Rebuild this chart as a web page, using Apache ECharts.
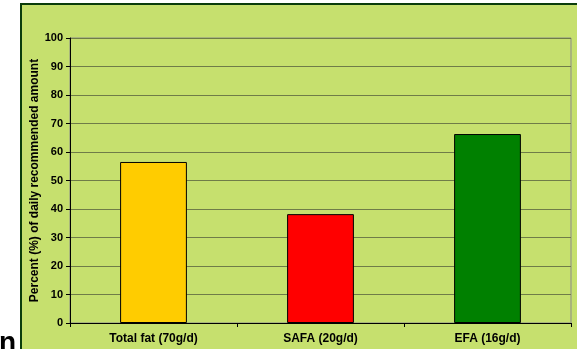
<!DOCTYPE html>
<html>
<head>
<meta charset="utf-8">
<script src="https://cdn.jsdelivr.net/npm/echarts@6/dist/echarts.min.js"></script>
<style>
  html, body { margin: 0; padding: 0; background: #ffffff; }
  #chart { width: 577px; height: 349px; }
</style>
</head>
<body>
<div id="chart"></div>
<script>
// Fat intake against daily recommended amounts
const categories = ['Total fat (70g/d)', 'SAFA (20g/d)', 'EFA (16g/d)'];
const percentOfRecommended = [56.5, 38.2, 66.3];
const barColors = ['#ffcc00', '#ff0000', '#008000'];
const yTicks = { min: 0, max: 100, interval: 10 };
const yAxisTitle = 'Percent (%) of daily recommended amount';

const chart = echarts.init(document.getElementById('chart'), null, { renderer: 'canvas' });

const panelGreen = '#c6e06e';
const labelFont = { fontFamily: 'Liberation Sans, Arial, sans-serif', fontWeight: 'bold', fontSize: 12, color: '#000000' };

chart.setOption({
  animation: false,
  backgroundColor: '#ffffff',
  graphic: [
    {
      type: 'rect',
      z: -10,
      shape: { x: 21, y: 4, width: 600, height: 400 },
      style: { fill: panelGreen, stroke: '#0b3d0b', lineWidth: 2 }
    },
    {
      type: 'text',
      left: -1,
      top: 329,
      style: { text: 'n', font: 'bold 28px Liberation Sans, Arial, sans-serif', fill: '#000000' }
    }
  ],
  grid: {
    left: 70, right: 6, top: 38, bottom: 26,
    show: true, backgroundColor: panelGreen, borderColor: '#8a8a8a', borderWidth: 1
  },
  xAxis: {
    type: 'category',
    data: categories,
    axisLine: { lineStyle: { color: '#000000', width: 1 } },
    axisTick: { show: true, alignWithLabel: false, length: 4, lineStyle: { color: '#000000' } },
    axisLabel: Object.assign({ margin: 10 }, labelFont)
  },
  yAxis: {
    type: 'value',
    min: yTicks.min, max: yTicks.max, interval: yTicks.interval,
    name: yAxisTitle,
    nameLocation: 'middle',
    nameGap: 29,
    nameMoveOverlap: false,
    nameTextStyle: Object.assign({}, labelFont, { fontSize: 12 }),
    axisLine: { show: true, lineStyle: { color: '#000000', width: 1 } },
    axisTick: { show: true, length: 4, lineStyle: { color: '#000000' } },
    axisLabel: Object.assign({ margin: 7 }, labelFont, { fontSize: 11 }),
    splitLine: { show: true, lineStyle: { color: '#6f7c48', width: 1 } }
  },
  series: [{
    type: 'bar',
    data: percentOfRecommended.map((v, i) => ({ value: v, itemStyle: { color: barColors[i] } })),
    barWidth: '40%',
    itemStyle: { borderColor: '#000000', borderWidth: 1 }
  }]
});
</script>
</body>
</html>
